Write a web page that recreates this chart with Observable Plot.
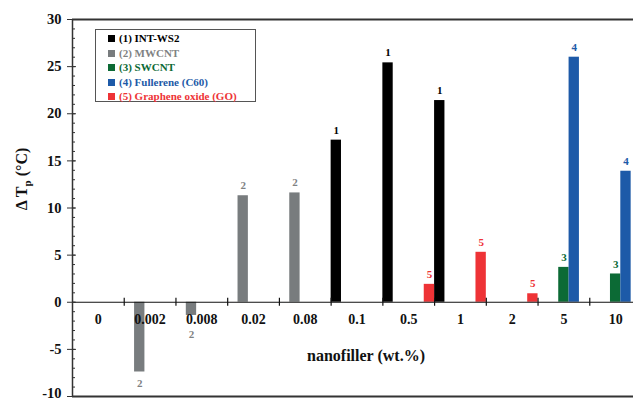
<!DOCTYPE html>
<html><head><meta charset="utf-8">
<script src="https://cdn.jsdelivr.net/npm/d3@7"></script>
<script src="https://cdn.jsdelivr.net/npm/@observablehq/plot@0.6"></script>
<style>
html,body{margin:0;padding:0;background:#fff;overflow:hidden;width:633px;height:401px}
#chart{position:relative;width:633px;height:401px;overflow:hidden}
.legend{position:absolute;left:95px;top:29px;width:161px;height:73px;border:1px solid #555;box-sizing:border-box;font-weight:bold;font-size:11px;font-family:"Liberation Serif","DejaVu Serif",serif;padding-top:1px;background:#fff}
.legend div{height:14.6px;line-height:14.6px;padding-left:12px;white-space:nowrap}
.legend span.sw{display:inline-block;width:7px;height:7px;margin-right:4px;vertical-align:0px}
</style></head><body><div id="chart"></div>
<script>
const categories = ["0","0.002","0.008","0.02","0.08","0.1","0.5","1","2","5","10"];
const series = ["(1) INT-WS2","(2) MWCNT","(3) SWCNT","(4) Fullerene (C60)","(5) Graphene oxide (GO)"];
const seriesTags = ["1","2","3","4","5"];
const colors = ["#000000","#787c7e","#0c6a35","#1d5aa8","#ee3336"];
const textColors = ["#000000","#7f8283","#0c6a35","#1d5aa8","#ee3336"];
const intWS2    = [null,null,null,null,null,17.2,25.4,21.4,null,null,null];
const mwcnt     = [null,-7.4,-1.4,11.3,11.6,null,null,null,null,null,null];
const swcnt     = [null,null,null,null,null,null,null,null,null,3.7,3.0];
const fullerene = [null,null,null,null,null,null,null,null,null,26.0,13.9];
const grapheneOxide = [null,null,null,null,null,null,1.9,5.3,0.9,null,null];
const yMajor = [-10,-5,0,5,10,15,20,25,30];
const yMinor = d3.range(-10,31,1);

const seriesValues = [intWS2, mwcnt, swcnt, fullerene, grapheneOxide];
const nSlots = series.length;
const rows = [];
seriesValues.forEach((vals, s) => vals.forEach((v, i) => {
  if (v !== null) rows.push({i, s, name: series[s], tag: seriesTags[s], value: v});
}));
const catRows = categories.map((c, i) => ({c, i}));
const font = '"Liberation Serif", "DejaVu Serif", serif';
const yMin = d3.min(yMajor);

const plot = Plot.plot({
  width: 642, height: 401,
  marginTop: 19, marginBottom: 5, marginLeft: 72, marginRight: 1,
  x: {domain: [0, categories.length], axis: null},
  y: {domain: [-10, 30], axis: null, label: null},
  color: {domain: series, range: colors},
  style: {fontFamily: font, maxWidth: "none", background: "#fff"},
  marks: [
    Plot.rect(rows, {x1: d => d.i + d.s / nSlots, x2: d => d.i + (d.s + 1) / nSlots, y1: 0, y2: d => d.value, fill: "name"}),
    Plot.ruleY([0], {stroke: "#111", strokeWidth: 1.2}),
    Plot.ruleX(d3.range(1, categories.length), {x: d => d, y1: 0, y2: 0, insetTop: -4, insetBottom: -4, stroke: "#111", strokeWidth: 1.2}),
    Plot.ruleY([30, -10], {stroke: "#333", strokeWidth: 2}),
    Plot.ruleX([0], {stroke: "#333", strokeWidth: 1.5}),
    Plot.axisY({ticks: yMajor, tickSize: 5, tickPadding: 6, fontSize: 14.5, fontWeight: "bold", tickFormat: d => d === yMin ? "" : String(d), label: null, stroke: "#333", fill: "#111"}),
    Plot.axisY({ticks: [yMin], tickSize: 5, tickPadding: 6, fontSize: 14.5, fontWeight: "bold", dy: -3, tickFormat: d => String(d), label: null, stroke: "none", fill: "#111"}),
    Plot.axisY({ticks: yMajor, tickSize: -4, tickFormat: () => "", label: null, stroke: "#333"}),
    Plot.axisY({ticks: yMinor, tickSize: -3, tickFormat: () => "", label: null, stroke: "#333"}),
    Plot.text(catRows, {x: d => d.i + 0.5, y: 0, text: "c", dy: 17, fontSize: 14, fontWeight: "bold", fill: "#111"}),
    Plot.text(rows.filter(d => d.value >= 0), {x: d => d.i + (d.s + 0.5) / nSlots, y: d => d.value, text: "tag", dy: -10, fontSize: 11, fontWeight: "bold", fill: d => textColors[d.s]}),
    Plot.text(rows.filter(d => d.value < 0), {x: d => d.i + (d.s + 0.5) / nSlots, y: d => Math.min(d.value, -2.3), text: "tag", dy: 11, fontSize: 11, fontWeight: "bold", fill: d => textColors[d.s]}),
    Plot.text(["nanofiller (wt.%)"], {frameAnchor: "bottom", dy: -36, dx: 9, fontSize: 16, fontWeight: "bold", fill: "#111"})
  ]
});

const svg = d3.select(plot);
const yl = svg.append("text")
  .attr("transform", "translate(27,179) rotate(-90)")
  .attr("text-anchor", "middle")
  .attr("font-family", font)
  .attr("font-size", 16)
  .attr("font-weight", "bold")
  .attr("fill", "#111");
yl.append("tspan").text("Δ T");
yl.append("tspan").attr("font-size", 11).attr("dy", 4).text("p");
yl.append("tspan").attr("dy", -4).text(" (°C)");

const chart = document.getElementById("chart");
chart.appendChild(plot);

const legend = document.createElement("div");
legend.className = "legend";
series.forEach((s, k) => {
  const row = document.createElement("div");
  row.style.color = textColors[k];
  const sw = document.createElement("span");
  sw.className = "sw";
  sw.style.background = colors[k];
  row.appendChild(sw);
  row.appendChild(document.createTextNode(s));
  legend.appendChild(row);
});
chart.appendChild(legend);
</script></body></html>
